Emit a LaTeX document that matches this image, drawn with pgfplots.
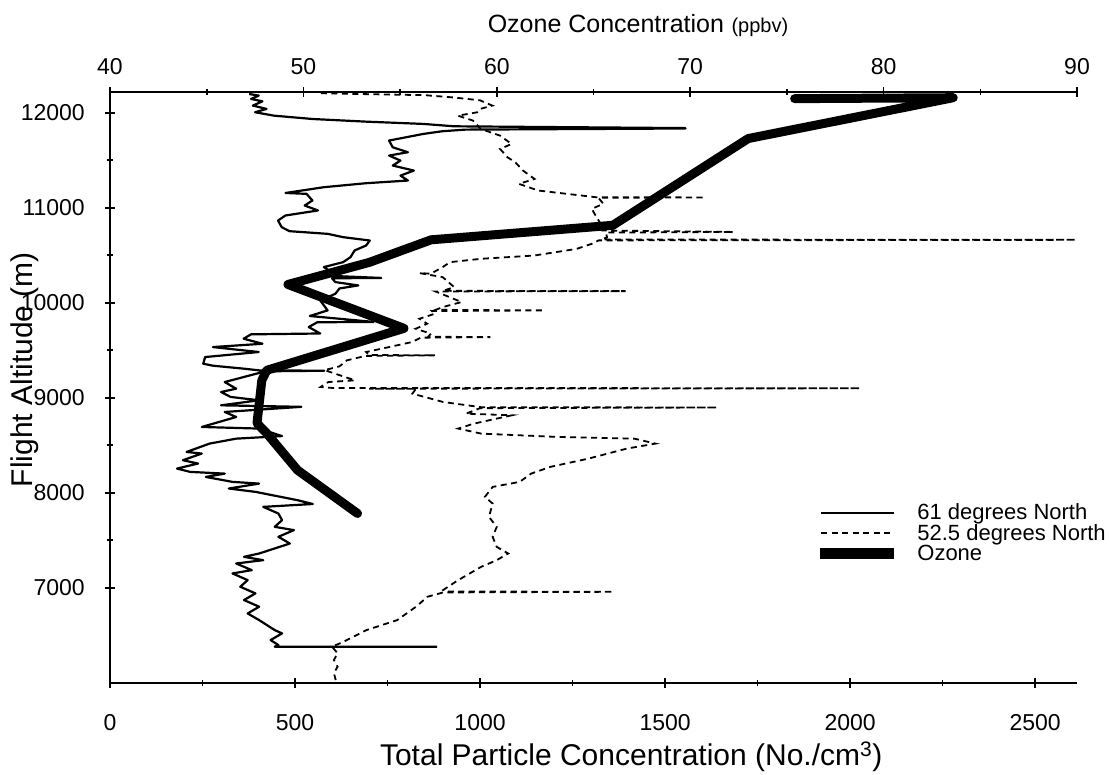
\documentclass[border=0pt]{standalone}
\usepackage{fontspec}
\setmainfont{Liberation Sans}
\usepackage{pgfplots}
\pgfplotsset{compat=1.18}

\newcommand\tk{\fontsize{23}{23}\selectfont}
\newcommand\lb{\fontsize{30}{30}\selectfont}

\pgfplotsset{
  base/.style={
    scale only axis, width=967pt, height=590.4pt,
    at={(0,0)}, anchor=south west,
    ymin=6000, ymax=12215,
    tick align=inside,
    major tick length=10pt, minor tick length=6pt,
    every tick/.style={black, line width=1.6pt},
    scaled x ticks=false, scaled y ticks=false,
    /pgf/number format/assume math mode=true,
    /pgf/number format/1000 sep={},
    ticklabel style={font=\tk, inner sep=0pt},
  },
  nolinearrow/.style={
    every inner x axis line/.append style={-},
    every outer x axis line/.append style={-},
    every inner y axis line/.append style={-},
    every outer y axis line/.append style={-},
    axis line style={-, line width=2.2pt},
  },
}

\begin{document}
\begin{tikzpicture}
\useasboundingbox (-110pt,-91.3pt) rectangle (1000pt,682.7pt);

% particle concentration, bottom and left axes
\begin{axis}[base,
  xmin=0, xmax=2613,
  axis x line=bottom, axis y line=left, nolinearrow,
  xtick={0,500,...,2500}, minor x tick num=1,
  ytick={7000,8000,...,12000}, minor y tick num=1,
  xticklabel style={anchor=center, yshift=-35.3pt},
  yticklabel style={anchor=east, xshift=-20pt},
  xlabel={Total Particle Concentration (No./cm$^{\mathrm{3}}$)},
  xlabel style={font=\lb, at={(axis description cs:0.539,-0.125)}, anchor=center},
  ylabel={Flight Altitude (m)},
  ylabel style={font=\lb, at={(axis description cs:-0.088,0.53)}, anchor=center},
  legend cell align=left,
  legend style={draw=none, fill=none, font=\fontsize{22}{22}\selectfont,
    at={(axis description cs:0.731,0.31)}, anchor=north west,
    row sep=-1pt, column sep=20pt},
  legend image code/.code={\draw[#1] (0pt,0pt) -- (73pt,0pt);},
]

% 61 degrees North
\addplot[black, line width=2.2pt, line join=round] coordinates {
(376,12197) (402,12180) (381,12145) (412,12120) (386,12075) (423,12040)
(392,12005) (443,11969) (547,11934) (692,11906) (847,11882) (930,11857)
(1555,11838) (1555,11834) (960,11822) (898,11805) (847,11777) (754,11707)
(764,11636) (805,11584) (754,11549) (785,11496) (764,11444) (821,11391)
(785,11338) (805,11286) (692,11258) (578,11216) (474,11155) (531,11146)
(547,11076) (526,11023) (562,10971) (474,10918) (454,10865) (464,10795)
(485,10753) (588,10725) (630,10690) (702,10655) (692,10602) (661,10550)
(650,10480) (630,10427) (578,10375) (599,10322) (568,10287) (733,10261)
(600,10257) (609,10217) (671,10182) (620,10150) (609,10094) (568,10024)
(588,9919) (540,9860) (712,9798) (560,9794) (537,9744) (568,9676)
(381,9667) (361,9621) (412,9568) (278,9533) (402,9481) (257,9428)
(252,9358) (278,9337) (361,9306) (403,9288) (579,9284) (420,9278)
(310,9165) (341,9095) (300,9060) (326,9008) (403,8973) (300,8920)
(517,8904) (310,8850) (341,8797) (248,8692) (403,8675) (465,8596)
(341,8569) (269,8517) (207,8429) (248,8412) (197,8342) (238,8307)
(181,8254) (217,8219) (310,8201) (259,8166) (331,8114) (403,8096)
(321,8044) (393,8009) (507,7921) (548,7881) (414,7851) (455,7781)
(465,7711) (445,7641) (497,7606) (455,7536) (486,7465) (403,7360)
(362,7325) (414,7290) (341,7255) (383,7185) (331,7150) (372,7080)
(352,7010) (393,6940) (362,6870) (403,6800) (372,6729) (403,6659)
(445,6554) (465,6519) (434,6449) (455,6396) (445,6379) (884,6379)
};
\addlegendentry{61 degrees North}

% 52.5 degrees North
\addplot[black, line width=1.8pt, dash pattern=on 6pt off 4.5pt] coordinates {
(570,12205) (700,12195) (850,12185) (930,12160) (1000,12130) (1033,12075)
(1000,12040) (992,12004) (940,11969) (981,11917) (1002,11829) (1054,11759)
(1085,11671) (1054,11619) (1074,11531) (1095,11479) (1116,11391) (1147,11303)
(1105,11251) (1157,11181) (1312,11111) (1607,11108) (1320,11104) (1333,11041)
(1302,10988) (1312,10918) (1323,10848) (1330,10760) (1685,10745) (1340,10738)
(1343,10690) (1330,10665) (2610,10662) (1320,10656) (1302,10620) (1261,10567)
(1147,10497) (1002,10462) (919,10427) (899,10375) (867,10305) (836,10312)
(899,10269) (930,10164) (900,10125) (1393,10122) (880,10118) (950,10007)
(899,9954) (880,9925) (1173,9919) (870,9912) (878,9884) (836,9831)
(857,9779) (826,9726) (867,9674) (860,9642) (1028,9638) (840,9632)
(816,9586) (754,9533) (692,9481) (700,9450) (878,9446) (690,9440)
(640,9393) (620,9330) (580,9290) (662,9183) (590,9165) (569,9113)
(600,9103) (2027,9099) (700,9095) (827,9095) (817,9043) (900,8955)
(1003,8900) (1640,8897) (1000,8890) (962,8832) (1086,8815) (983,8727)
(941,8675) (1003,8622) (1210,8587) (1417,8569) (1474,8517) (1396,8464)
(1293,8359) (1190,8272) (1138,8201) (1107,8114) (1034,8061) (1013,7956)
(1034,7886) (1024,7746) (1045,7640) (1034,7535) (1045,7430) (1076,7360)
(1045,7290) (1003,7220) (941,7080) (900,6975) (905,6960) (1360,6957)
(900,6950) (858,6905) (827,6800) (776,6659) (693,6554) (631,6431)
(600,6379) (615,6309) (605,6239) (615,6169) (605,6100) (610,6028)
};
\addlegendentry{52.5 degrees North}

\addlegendimage{legend image code/.code={\fill[black] (-1pt,-5pt) rectangle (72pt,5pt);}}
\addlegendentry{Ozone}
\end{axis}

% ozone, top axis
\begin{axis}[base,
  xmin=40, xmax=90, clip=false,
  axis x line=top, axis y line=none, nolinearrow,
  xtick={40,50,...,90}, minor x tick num=1,
  xticklabel style={anchor=center, yshift=21pt},
  xlabel={Ozone Concentration\hspace{0.3em}{\fontsize{20}{20}\selectfont(ppbv)}},
  xlabel style={font=\fontsize{25}{25}\selectfont, at={(axis description cs:0.546,1.113)}, anchor=center},
]
\addplot[black, line width=9pt, line cap=round, line join=round] coordinates {
(75.4,12148) (83.6,12158) (73.0,11728) (66.0,10815) (56.6,10662)
(53.4,10424) (49.2,10192) (55.2,9730) (48.1,9288) (47.85,9183)
(47.6,8731) (48.1,8626) (49.7,8237) (52.8,7781)
};
\end{axis}
\end{tikzpicture}
\end{document}
